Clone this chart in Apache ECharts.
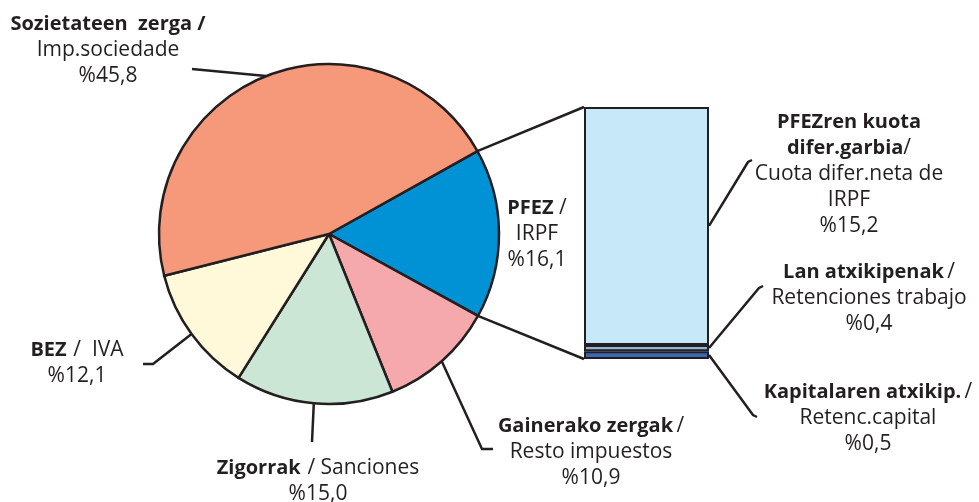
<!DOCTYPE html>
<html>
<head>
<meta charset="utf-8">
<script src="https://cdn.jsdelivr.net/npm/echarts@6/dist/echarts.min.js"></script>
<style>
  html, body { margin: 0; padding: 0; background: #ffffff; }
  #chart { width: 979px; height: 502px; }
</style>
</head>
<body>
<div id="chart"></div>
<script>
// Tax collection shares (%), pie slices in clockwise order
const pieNamesEu = ['PFEZ', 'Gainerako zergak', 'Zigorrak', 'BEZ', 'Sozietateen  zerga'];
const pieNamesEs = ['IRPF', 'Resto impuestos', 'Sanciones', 'IVA', 'Imp.sociedade'];
const pieValues = [16.1, 10.9, 15.0, 12.1, 45.8];
const pieColors = ['#0092d5', '#f6a9ac', '#cbe6d5', '#fff9d9', '#f6997a'];

// Breakdown of the PFEZ / IRPF slice, stacked bottom to top
const barNamesEu = ['Kapitalaren atxikip.', 'Lan atxikipenak', 'PFEZren kuota\ndifer.garbia'];
const barNamesEs = ['Retenc.capital', 'Retenciones trabajo', 'Cuota difer.neta de\nIRPF'];
const barValues = [0.5, 0.4, 15.2];
const barColors = ['#3e66b3', '#8fb1de', '#c7e8f8'];

const INK = '#231f20';
const FONT = '"Open Sans", "Noto Sans", sans-serif';
const pct = v => '%' + v.toFixed(1).replace('.', ',');

const rich = {
  b: { fontFamily: FONT, fontWeight: 'bold', fontSize: 20, color: INK, lineHeight: 26 },
  n: { fontFamily: FONT, fontWeight: 'normal', fontSize: 21, color: INK, lineHeight: 26 }
};

function normalLines(s) {
  return s.split('\n').map(t => '{n|' + t + '}').join('\n');
}

// Label placement: centre of text block plus elbow points of the guide line
const pieLabelPlace = [
  { x: 537, y: 234, line: null },
  { x: 591, y: 452, line: [[482, 449], [493, 449]] },
  { x: 318, y: 481, line: [[312, 442]] },
  { x: 77, y: 363, line: [[153, 364], [143, 364]] },
  { x: 108, y: 50, line: [[192, 69]] }
];
const pieFormats = [
  (eu, es, v) => '{b|' + eu + '}{n| /}\n{n|' + es + '}\n{n|' + pct(v) + '}',
  (eu, es, v) => '{b|' + eu + '} {n|/}\n{n|' + es + '}\n{n|' + pct(v) + '}',
  (eu, es, v) => '{b|' + eu + '}  {n|/ ' + es + '}\n{n|' + pct(v) + '}',
  (eu, es, v) => '{b|' + eu + '}  {n|/  ' + es + '}\n{n|' + pct(v) + '}',
  (eu, es, v) => '{b|' + eu + ' /}\n{n|' + es + '}\n{n|' + pct(v) + '}'
];

const barLabelPlace = [
  { x: 868, y: 418, line: [[753, 415], [757, 417]] },
  { x: 869, y: 298, line: [[759, 288], [763, 286]] },
  { x: 849, y: 174, line: [[748, 162], [752, 160]] }
];
const barFormats = [
  (eu, es, v) => '{b|' + eu + '} {n|/}\n{n|' + es + '}\n{n|' + pct(v) + '}',
  (eu, es, v) => '{b|' + eu + '} {n|/}\n{n|' + es + '}\n{n|' + pct(v) + '}',
  (eu, es, v) => {
    const e = eu.split('\n');
    return '{b|' + e[0] + '}\n{b|' + e[1] + '}{n|/}\n' + normalLines(es) + '\n{n|' + pct(v) + '}';
  }
];

const pieData = pieValues.map((v, i) => ({
  value: v,
  name: pieNamesEu[i],
  itemStyle: { color: pieColors[i] },
  labelLine: { show: i !== 0 }
}));

const barTotal = barValues.reduce((a, b) => a + b, 0);

const barSeries = barValues.map((v, i) => ({
  type: 'bar',
  name: barNamesEu[i],
  stack: 'pfez',
  barWidth: '100%',
  data: [v],
  itemStyle: { color: barColors[i], borderColor: INK, borderWidth: 2 },
  label: {
    show: true,
    position: 'right',
    rich: rich,
    align: 'center',
    formatter: () => barFormats[i](barNamesEu[i], barNamesEs[i], v)
  },
  labelLayout: () => {
    const p = barLabelPlace[i];
    return { x: p.x, y: p.y, align: 'center', verticalAlign: 'middle' };
  },
  silent: true
}));

const option = {
  animation: false,
  backgroundColor: '#ffffff',
  grid: { left: 584, top: 107, width: 125, height: 252 },
  xAxis: { type: 'category', data: ['PFEZ'], show: false },
  yAxis: { type: 'value', min: 0, max: barTotal, show: false },
  series: [
    {
      type: 'pie',
      center: [329, 234],
      radius: 170,
      startAngle: 29.2,
      clockwise: true,
      silent: true,
      data: pieData,
      itemStyle: { borderColor: INK, borderWidth: 2.5 },
      label: {
        show: true,
        position: 'outside',
        rich: rich,
        align: 'center',
        formatter: p => pieFormats[p.dataIndex](pieNamesEu[p.dataIndex], pieNamesEs[p.dataIndex], p.value)
      },
      labelLine: { show: true, length: 10, length2: 10, lineStyle: { color: INK, width: 2.5 } },
      labelLayout: params => {
        const p = pieLabelPlace[params.dataIndex];
        const out = { x: p.x, y: p.y, align: 'center', verticalAlign: 'middle' };
        if (p.line && params.labelLinePoints) {
          out.labelLinePoints = [params.labelLinePoints[0]].concat(p.line);
        }
        return out;
      }
    }
  ].concat(barSeries)
};

const chart = echarts.init(document.getElementById('chart'), null, { renderer: 'canvas' });
chart.setOption(option);

// Connector lines: PFEZ slice edges to the bar, and bar segments to their labels
function drawConnectors() {
  const toRad = Math.PI / 180;
  const c = [329, 234], rad = 170;
  const pieSum = pieValues.reduce((a, b) => a + b, 0);
  const a0 = 29.2 * toRad;
  const a1 = (29.2 - pieValues[0] / pieSum * 360) * toRad;
  const topPt = chart.convertToPixel({ gridIndex: 0 }, [0, barTotal]);
  const botPt = chart.convertToPixel({ gridIndex: 0 }, [0, 0]);
  const barLeft = 584, barRight = 709;
  const mkStyle = () => ({ stroke: INK, lineWidth: 2.5, fill: null });
  const g = [
    { type: 'line', silent: true, z: 10,
      shape: { x1: c[0] + rad * Math.cos(a0), y1: c[1] - rad * Math.sin(a0), x2: barLeft, y2: topPt[1] },
      style: mkStyle() },
    { type: 'line', silent: true, z: 10,
      shape: { x1: c[0] + rad * Math.cos(a1), y1: c[1] - rad * Math.sin(a1), x2: barLeft, y2: botPt[1] },
      style: mkStyle() }
  ];
  let base = 0;
  barValues.forEach((v, i) => {
    const mid = chart.convertToPixel({ gridIndex: 0 }, [0, base + v / 2]);
    base += v;
    g.push({
      type: 'polyline', silent: true, z: 10,
      shape: { points: [[barRight, mid[1]]].concat(barLabelPlace[i].line) },
      style: mkStyle()
    });
  });
  chart.setOption({ graphic: g });
}
drawConnectors();
</script>
</body>
</html>
